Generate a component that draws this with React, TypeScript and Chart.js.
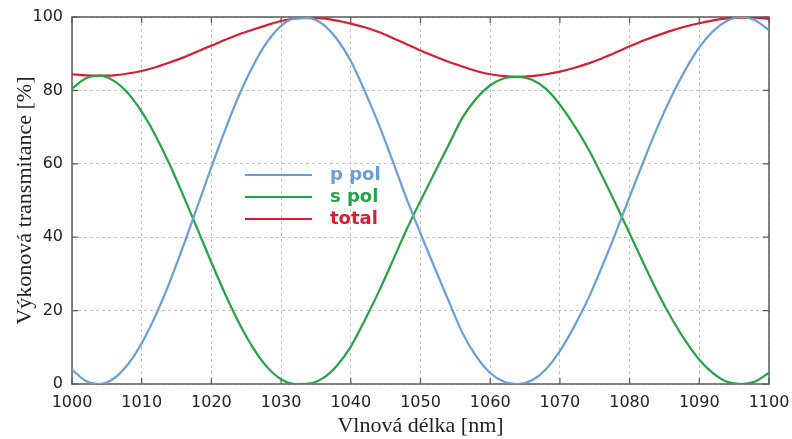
import React, { useEffect, useRef } from "react";
import { Chart, registerables } from "chart.js";

Chart.register(...registerables);

const wavelengths = [
  1000, 1002, 1004, 1006, 1008, 1010, 1012, 1014, 1016, 1018, 1020, 1022, 1024, 1026, 1028, 1030, 1032,
  1034, 1036, 1038, 1040, 1042, 1044, 1046, 1048, 1050, 1052, 1054, 1056, 1058, 1060, 1062, 1064,
  1066, 1068, 1070, 1072, 1074, 1076, 1078, 1080, 1082, 1084, 1086, 1088, 1090, 1092, 1094, 1096, 1098, 1100,
];

const pPol = [
  3.9, 0.8, 0.0, 1.5, 5.3, 11.1, 18.7, 27.7, 37.8, 48.4, 59.1, 69.4, 78.8, 86.8, 93.2, 97.6, 99.6,
  99.7, 98.0, 94.0, 88.0, 79.8, 70.8, 60.8, 50.5, 41.0, 31.8, 22.8, 14.0, 7.5, 3.0, 0.6, 0.0,
  1.0, 4.0, 9.0, 15.5, 23.0, 31.8, 41.2, 51.0, 60.7, 70.0, 78.3, 85.6, 91.7, 96.2, 99.0, 100.0, 99.1, 96.4,
];

const sPol = [
  80.5, 83.3, 84.0, 82.6, 79.3, 74.2, 67.6, 59.9, 51.2, 42.2, 33.1, 24.4, 16.5, 9.8, 4.6, 1.3, 0.0,
  0.1, 1.6, 5.0, 10.2, 17.4, 25.1, 33.5, 42.1, 49.9, 57.5, 65.0, 72.5, 77.8, 81.4, 83.3, 83.7,
  82.9, 80.4, 76.1, 70.6, 64.3, 56.9, 49.1, 41.0, 32.9, 25.0, 18.0, 11.8, 6.6, 2.9, 0.6, 0.0, 0.7, 3.1,
];

const totalT = [
  84.4, 84.1, 84.0, 84.1, 84.6, 85.3, 86.3, 87.6, 89.0, 90.6, 92.2, 93.8, 95.3, 96.6, 97.8, 98.9, 99.6,
  99.8, 99.6, 99.0, 98.2, 97.2, 95.9, 94.3, 92.6, 90.9, 89.3, 87.8, 86.5, 85.3, 84.4, 83.9, 83.7,
  83.9, 84.4, 85.1, 86.1, 87.3, 88.7, 90.3, 92.0, 93.6, 95.0, 96.3, 97.4, 98.3, 99.1, 99.6, 99.8, 99.8, 99.5,
];

const seriesLabels = ["p pol", "s pol", "total"];
const seriesColors = ["#6a9ed8", "#22a544", "#d81e32"];

const xTitle = "Vlnová délka [nm]";
const yTitle = "Výkonová transmitance [%]";

const frameColor = "#5a5a5a";

const framePlugin = {
  id: "frame",
  beforeDatasetsDraw(chart: any) {
    const { ctx, chartArea } = chart;
    const { left, right, top, bottom } = chartArea;
    const xs = chart.scales.x;
    const ys = chart.scales.y;
    ctx.save();
    ctx.strokeStyle = frameColor;
    ctx.lineWidth = 1.5;
    ctx.setLineDash([]);
    ctx.strokeRect(left, top, right - left, bottom - top);
    const tl = 6;
    ctx.lineWidth = 1.2;
    ctx.beginPath();
    xs.ticks.forEach((t: any) => {
      const px = xs.getPixelForValue(t.value);
      ctx.moveTo(px, bottom);
      ctx.lineTo(px, bottom - tl);
      ctx.moveTo(px, top);
      ctx.lineTo(px, top + tl);
    });
    ys.ticks.forEach((t: any) => {
      const py = ys.getPixelForValue(t.value);
      ctx.moveTo(left, py);
      ctx.lineTo(left + tl, py);
      ctx.moveTo(right, py);
      ctx.lineTo(right - tl, py);
    });
    ctx.stroke();
    ctx.restore();
  },
  afterDatasetsDraw(chart: any) {
    const { ctx, chartArea } = chart;
    const x0 = chartArea.left + 173;
    const lineLen = 67;
    const y0 = chartArea.top + 158;
    const gap = 22;
    ctx.save();
    ctx.font = "bold 18px 'DejaVu Sans'";
    ctx.textBaseline = "middle";
    ctx.textAlign = "left";
    chart.data.datasets.forEach((ds: any, i: number) => {
      const y = y0 + i * gap;
      ctx.strokeStyle = ds.borderColor;
      ctx.lineWidth = 2.2;
      ctx.beginPath();
      ctx.moveTo(x0, y);
      ctx.lineTo(x0 + lineLen, y);
      ctx.stroke();
      ctx.fillStyle = ds.borderColor;
      ctx.fillText(ds.label, x0 + lineLen + 18, y);
    });
    ctx.restore();
  },
};

export default function App() {
  const ref = useRef<HTMLCanvasElement>(null);

  useEffect(() => {
    document.body.style.margin = "0";
    const canvas = ref.current;
    if (!canvas) return;
    const seriesData = [pPol, sPol, totalT];
    const chart = new Chart(canvas, {
      type: "line",
      data: {
        datasets: seriesData.map((vals, i) => ({
          label: seriesLabels[i],
          data: wavelengths.map((w, j) => ({ x: w, y: vals[j] })),
          borderColor: seriesColors[i],
          backgroundColor: seriesColors[i],
          borderWidth: 2.2,
          pointRadius: 0,
          fill: false,
          cubicInterpolationMode: "monotone" as const,
        })),
      },
      options: {
        animation: false,
        responsive: false,
        maintainAspectRatio: false,
        layout: { padding: { top: 17, right: 23, left: 0, bottom: 0 } },
        plugins: {
          legend: { display: false },
          tooltip: { enabled: false },
        },
        scales: {
          x: {
            type: "linear",
            min: 1000,
            max: 1100,
            ticks: {
              stepSize: 10,
              padding: 9,
              color: "#222",
              font: { family: "'DejaVu Sans'", size: 16 },
              maxRotation: 0,
              callback: (v: any) => String(v),
            },
            grid: { color: "#c4c4c4", lineWidth: 1, drawTicks: false, tickLength: 0 },
            border: { display: false, dash: [3, 3] },
            title: {
              display: true,
              text: xTitle,
              color: "#222",
              font: { family: "'Liberation Serif'", size: 22 },
              padding: { top: 0, bottom: 0 },
            },
            afterFit: (s: any) => {
              s.height = 55;
              s.paddingLeft = 0;
              s.paddingRight = 0;
            },
          },
          y: {
            min: 0,
            max: 100,
            ticks: {
              stepSize: 20,
              padding: 9,
              color: "#222",
              font: { family: "'DejaVu Sans'", size: 16 },
              callback: (v: any) => String(v),
            },
            grid: { color: "#c4c4c4", lineWidth: 1, drawTicks: false, tickLength: 0 },
            border: { display: false, dash: [3, 3] },
            title: {
              display: true,
              text: yTitle,
              color: "#222",
              font: { family: "'Liberation Serif'", size: 22 },
              padding: { top: 12, bottom: 0 },
            },
            afterFit: (s: any) => {
              s.width = 72;
              s.paddingTop = 0;
              s.paddingBottom = 0;
            },
          },
        },
      },
      plugins: [framePlugin],
    });
    return () => chart.destroy();
  }, []);

  return (
    <div style={{ width: 792, height: 439, background: "#fff" }}>
      <canvas ref={ref} width={792} height={439} style={{ display: "block", width: 792, height: 439 }} />
    </div>
  );
}
